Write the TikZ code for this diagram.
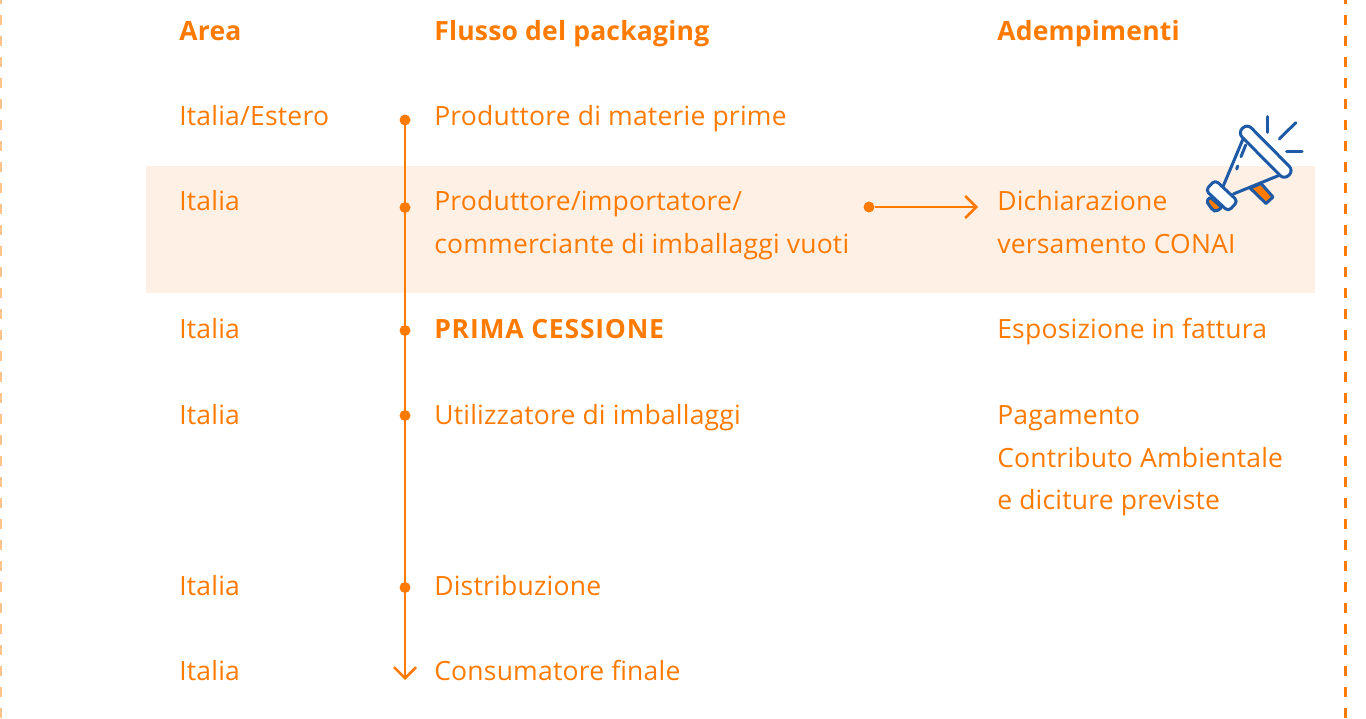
\documentclass[tikz,border=0pt]{standalone}
\usepackage{fontspec}
\setmainfont{Open Sans}[LetterSpace=0.8]
\usetikzlibrary{arrows.meta}
\definecolor{cff7a00}{RGB}{255,122,0}
\definecolor{cfff0e5}{RGB}{255,240,229}
\definecolor{c1f5aa6}{RGB}{31,90,166}
\tikzset{every path/.style={line width=2.6pt,color=cff7a00}}
\tikzset{rowtext/.style={anchor=base west,inner sep=0pt,text=cff7a00,font=\fontsize{26.5}{26.5}\selectfont},
headtext/.style={rowtext,font=\fontsize{26.5}{26.5}\selectfont\bfseries},
bullet/.style={circle,fill=cff7a00,draw=none,minimum size=11pt,inner sep=0pt,outer sep=0pt},
openhead/.style={-{Straight Barb[length=11pt,width=22pt,line width=2.6pt]}},
horn/.style={draw=c1f5aa6,line width=3pt,line cap=round,line join=round}}

\begin{document}
\begin{tikzpicture}[x=1pt,y=-1pt]
\useasboundingbox (0,0) rectangle (1366,719);
\fill[cfff0e5] (146,166) rectangle (1315,293);
\draw[dash pattern=on 10pt off 11pt,line width=3pt,opacity=.45] (0,-6) -- (0,719);
\draw[dash pattern=on 10pt off 11pt,line width=3pt] (1345,-6) -- (1345,719);

\node[headtext] (hArea) at (178,41) {Area};
\node[headtext] (hFlow) at (433,41) {Flusso del packaging};
\node[headtext] (hDuty) at (996,41) {Adempimenti};

\node[bullet] (p1) at (405,120) {};
\node[bullet] (p2) at (405,207.5) {};
\node[bullet] (p3) at (405,330.5) {};
\node[bullet] (p4) at (405,415.5) {};
\node[bullet] (p5) at (405,587.5) {};
\coordinate (p6) at (405,680);
\node[bullet] (q) at (869,207) {};
\coordinate (r) at (978,207);

\node[rowtext] (a1) at (178,126) {Italia/Estero};
\node[rowtext] (a2) at (178,211) {Italia};
\node[rowtext] (a3) at (178,339) {Italia};
\node[rowtext] (a4) at (178,424) {Italia};
\node[rowtext] (a5) at (178,595) {Italia};
\node[rowtext] (a6) at (178,680) {Italia};

\node[rowtext] (f1) at (433,126) {Produttore di materie prime};
\node[rowtext] (f2) at (433,211) {Produttore/importatore/};
\node[rowtext] (f2b) at (433,254) {commerciante di imballaggi vuoti};
\node[headtext] (f3) at (433,339) {\addfontfeature{LetterSpace=3}PRIMA CESSIONE};
\node[rowtext] (f4) at (433,424) {Utilizzatore di imballaggi};
\node[rowtext] (f5) at (433,595) {Distribuzione};
\node[rowtext] (f6) at (433,680) {Consumatore finale};

\node[rowtext] (d1) at (996,211) {Dichiarazione};
\node[rowtext] (d1b) at (996,254) {versamento CONAI};
\node[rowtext] (d2) at (996,339) {Esposizione in fattura};
\node[rowtext] (d3) at (996,424) {Pagamento};
\node[rowtext] (d3b) at (996,467) {Contributo Ambientale};
\node[rowtext] (d3c) at (996,509) {e diciture previste};

\draw[openhead] (p1) -- (p6);
\draw[openhead] (q) -- (r);

% megaphone
\filldraw[horn,fill=cff7a00] (1250,188) -- (1261,183.5) -- (1273,197) -- (1266,203.5) -- cycle;
\filldraw[horn,fill=cff7a00,rounded corners=2pt] (1206.5,201.5) -- (1210,197) -- (1222,207.5) -- (1216,211.5) -- (1213,210.5) -- cycle;
\draw[horn] (1243.3,138.3) -- (1222.7,187.3);
\draw[horn] (1280,175) -- (1233.3,194);
\filldraw[horn,fill=white,rotate around={-45.3:(1265.7,151.7)},rounded corners=6pt] (1232.7,145.2) rectangle (1298.7,158.2);
\filldraw[horn,fill=white,rotate around={-43:(1221.7,195.7)},rounded corners=4pt] (1206.2,188.7) rectangle (1237.2,202.7);
\draw[horn] (1245.7,145) -- (1241,156.7);
\draw[horn] (1237.7,166) -- (1236.7,169);
\draw[horn] (1267.7,116.7) -- (1267.7,132.3);
\draw[horn] (1295.7,122.7) -- (1279.3,139);
\draw[horn] (1286.7,151.7) -- (1302,151.7);
\end{tikzpicture}
\end{document}
